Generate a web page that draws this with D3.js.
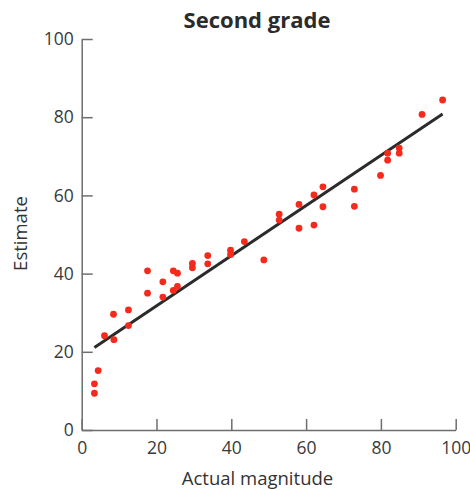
<!DOCTYPE html>
<html>
<head>
<meta charset="utf-8">
<script src="https://cdn.jsdelivr.net/npm/d3@7"></script>
<style>
  body { margin: 0; background: #fff; }
  svg text { font-family: "Open Sans", sans-serif; fill: #333; }
</style>
</head>
<body>
<div id="chart"></div>
<script>
'use strict'

// actual magnitude vs estimate, second grade
const actual = [3.4, 3.4, 4.4, 6.1, 8.6, 8.5, 12.5, 12.5, 17.6, 17.6,
  21.7, 21.7, 24.5, 25.6, 24.5, 25.6, 29.6, 29.6, 33.7, 33.7,
  39.8, 39.8, 43.5, 48.7, 52.8, 52.8, 58.1, 58.1, 62.1, 62.1,
  64.5, 64.5, 72.9, 72.9, 79.9, 81.8, 81.8, 84.9, 84.9, 91.0, 96.5];
const estimate = [9.4, 11.8, 15.2, 24.1, 23.1, 29.6, 26.7, 30.7, 40.7, 35.0,
  37.9, 34.0, 40.7, 40.1, 35.7, 36.7, 42.6, 41.5, 44.6, 42.5,
  46.0, 44.9, 48.2, 43.5, 55.2, 53.7, 57.7, 51.6, 60.1, 52.4,
  62.2, 57.1, 61.6, 57.2, 65.1, 70.8, 69.0, 72.1, 70.8, 80.7, 84.4];

// fitted line endpoints
const fitX = [3.4, 96.5];
const fitY = [21.1, 80.8];

const xTicks = [0, 20, 40, 60, 80, 100];
const yTicks = [0, 20, 40, 60, 80, 100];

const margin = {left: 81.7, top: 39, right: 14.3, bottom: 60}
const width = 470 - margin.left - margin.right
const height = 490 - margin.top - margin.bottom

const svg = d3.select('#chart').append('svg')
  .attr('width', 470)
  .attr('height', 490)

const g = svg.append('g')
  .attr('transform', 'translate(' + margin.left + ',' + margin.top + ')')

const x = d3.scaleLinear().domain([0, 100]).range([0, width])
const y = d3.scaleLinear().domain([0, 100]).range([height, 0])

const xAxis = g.append('g')
  .attr('transform', 'translate(0,' + height + ')')
  .call(d3.axisBottom(x).tickValues(xTicks).tickSizeInner(-11).tickSizeOuter(0).tickPadding(12))
const yAxis = g.append('g')
  .call(d3.axisLeft(y).tickValues(yTicks).tickSizeInner(-11).tickSizeOuter(0).tickPadding(8))

for (const ax of [xAxis, yAxis]) {
  ax.selectAll('path, line').attr('stroke', '#6e6e6e').attr('stroke-width', 1.5)
  ax.selectAll('text').style('font-size', '17.5px').style('fill', '#3a3a3a')
  ax.attr('font-family', null)
}

// trend line
const points = fitX.map((d, i) => [d, fitY[i]])
g.append('path')
  .datum(points)
  .attr('d', d3.line().x(d => x(d[0])).y(d => y(d[1])))
  .attr('stroke', '#2b2b2b')
  .attr('stroke-width', 3)
  .attr('fill', 'none')

g.selectAll('circle').data(actual).enter()
  .append('circle')
    .attr('cx', d => x(d))
    .attr('cy', (d, i) => y(estimate[i]))
    .attr('r', 3.4)
    .attr('fill', '#f52a1c')

svg.append('text')
  .attr('x', 257)
  .attr('y', 28)
  .attr('text-anchor', 'middle')
  .style('font-size', '22px')
  .style('font-weight', 'bold')
  .style('fill', '#2b2b2b')
  .text('Second grade')

svg.append('text')
  .attr('x', 257.5)
  .attr('y', 484.5)
  .attr('text-anchor', 'middle')
  .style('font-size', '18.5px')
  .text('Actual magnitude')

svg.append('text')
  .attr('transform', 'translate(26.5,233.5) rotate(-90)')
  .attr('text-anchor', 'middle')
  .style('font-size', '18.5px')
  .text('Estimate')
</script>
</body>
</html>
